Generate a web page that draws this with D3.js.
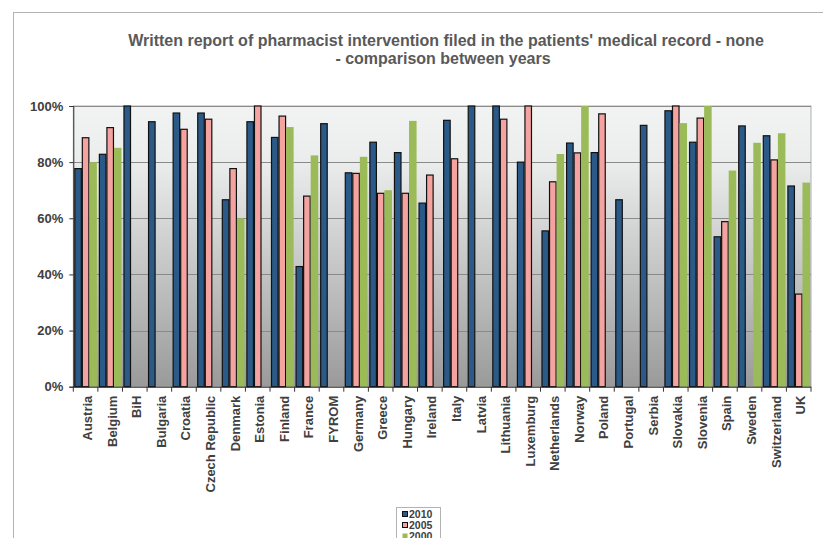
<!DOCTYPE html>
<html><head><meta charset="utf-8">
<script src="https://cdn.jsdelivr.net/npm/d3@7/dist/d3.min.js"></script>
<style>body{margin:0;background:#fff;}svg{display:block;font-family:Arial,"Liberation Sans",sans-serif;}</style>
</head><body><svg id="c" width="823" height="538"></svg>
<script>
const categories = ["Austria","Belgium","BiH","Bulgaria","Croatia","Czech Republic","Denmark","Estonia","Finland","France","FYROM","Germany","Greece","Hungary","Ireland","Italy","Latvia","Lithuania","Luxemburg","Netherlands","Norway","Poland","Portugal","Serbia","Slovakia","Slovenia","Spain","Sweden","Switzerland","UK"];
const v2010 = [77.7,82.8,100,94.4,97.5,97.5,66.6,94.4,88.8,42.8,93.7,76.2,87.1,83.4,65.4,94.9,100,100,80.0,55.5,86.8,83.4,66.6,93.1,98.3,87.1,53.4,92.9,89.4,71.5];
const v2005 = [88.7,92.3,null,null,91.7,95.3,77.7,100,96.4,67.9,null,76.0,68.9,68.9,75.4,81.2,null,95.3,100,73.0,83.3,97.2,null,null,100,95.7,58.8,null,80.8,33.0];
const v2000 = [80.0,85.1,null,null,null,null,60.0,null,92.5,82.4,null,81.9,70.0,94.7,null,null,null,null,null,82.9,100,null,null,null,93.9,100,77.0,86.9,90.3,72.7];
const seriesNames = ["2010","2005","2000"];
const yTicks = [0,20,40,60,80,100];
const titleLines = ["Written report of pharmacist intervention filed in the patients' medical record - none","- comparison between years"];

const series = [
  {name:seriesNames[0], values:v2010, fill:"#2b5a88", stroke:"#111"},
  {name:seriesNames[1], values:v2005, fill:"#f4a3a1", stroke:"#111"},
  {name:seriesNames[2], values:v2000, fill:"#9bbb59", stroke:"none"}
];

const svg = d3.select("#c");
const M = {l:73.3, r:811, t:106, b:386.7};

// outer frame
svg.append("rect").attr("x",13.5).attr("y",12.5).attr("width",830).attr("height",560)
  .attr("fill","#fff").attr("stroke","#b3b3b3").attr("stroke-width",1);

const defs = svg.append("defs");
const g = defs.append("linearGradient").attr("id","bg").attr("x1",0).attr("y1",0).attr("x2",0).attr("y2",1);
g.append("stop").attr("offset","0").attr("stop-color","#f2f3f3");
g.append("stop").attr("offset","0.2").attr("stop-color","#ebecec");
g.append("stop").attr("offset","1").attr("stop-color","#9a9a9a");

const x = d3.scaleBand().domain(categories).range([M.l,M.r]).paddingInner(0.08).paddingOuter(0.04);
const xs = d3.scaleBand().domain(seriesNames).range([0,x.bandwidth()]);
const y = d3.scaleLinear().domain([0,100]).range([M.b,M.t]);

svg.append("rect").attr("x",M.l).attr("y",M.t).attr("width",M.r-M.l).attr("height",M.b-M.t)
  .attr("fill","url(#bg)").attr("stroke","#b0b0b0").attr("stroke-width",1);

// gridlines
svg.append("g").selectAll("line").data(yTicks.filter(d=>d>0)).join("line")
  .attr("x1",M.l).attr("x2",M.r).attr("y1",d=>Math.round(y(d))+0.5).attr("y2",d=>Math.round(y(d))+0.5)
  .attr("stroke","#8a8a8a").attr("stroke-width",1);

// bars
series.forEach(s=>{
  svg.append("g").selectAll("rect").data(categories.map((c,i)=>({c,v:s.values[i]})).filter(d=>d.v!=null)).join("rect")
    .attr("x",d=>x(d.c)+xs(s.name)+(s.stroke==="none"?0:0.5))
    .attr("width",xs.bandwidth()-(s.stroke==="none"?0:1))
    .attr("y",d=>y(d.v))
    .attr("height",d=>y(0)-y(d.v))
    .attr("fill",s.fill)
    .attr("stroke",s.stroke).attr("stroke-width",1.2);
});

// y axis
const yAxis = d3.axisLeft(y).tickValues(yTicks).tickFormat(d=>d+"%").tickSize(4);
const ya = svg.append("g").attr("transform",`translate(${M.l},0)`).call(yAxis);
ya.select(".domain").attr("stroke","#333");
ya.selectAll(".tick line").attr("stroke","#333");
ya.selectAll("text").attr("font-size",13).attr("font-weight","bold").attr("fill","#404040").attr("x",-10);

// x axis
const xa = svg.append("g").attr("transform",`translate(0,${M.b})`);
xa.append("line").attr("x1",M.l).attr("x2",M.r).attr("y1",0.5).attr("y2",0.5).attr("stroke","#222");
const step = x.step();
xa.selectAll("line.tk").data(d3.range(categories.length+1)).join("line").attr("class","tk")
  .attr("x1",i=>M.l+i*step).attr("x2",i=>M.l+i*step).attr("y1",0).attr("y2",5).attr("stroke","#333");
xa.selectAll("text").data(categories).join("text")
  .attr("transform",d=>`translate(${x(d)+x.bandwidth()/2+6.5},9) rotate(-90)`)
  .attr("text-anchor","end")
  .attr("font-size",13).attr("font-weight","bold").attr("fill","#404040")
  .text(d=>d);

// title
svg.append("g").selectAll("text").data(titleLines).join("text")
  .attr("x",(d,i)=>i===0?446:443).attr("y",(d,i)=>46+i*18)
  .attr("text-anchor","middle").attr("font-size",16).attr("font-weight","bold").attr("fill","#595959")
  .text(d=>d);

// legend
const lg = svg.append("g");
lg.append("rect").attr("x",396.5).attr("y",507.5).attr("width",44).attr("height",40).attr("fill","#fff").attr("stroke","#b3b3b3");
series.forEach((s,i)=>{
  lg.append("rect").attr("x",402.5).attr("y",511.5+i*11).attr("width",5).attr("height",5)
    .attr("fill",s.fill).attr("stroke",s.stroke==="none"?"none":"#111");
  lg.append("text").attr("x",409).attr("y",517.5+i*11).attr("font-size",10.5).attr("font-weight","bold").attr("fill","#404040").text(s.name);
});
</script></body></html>
